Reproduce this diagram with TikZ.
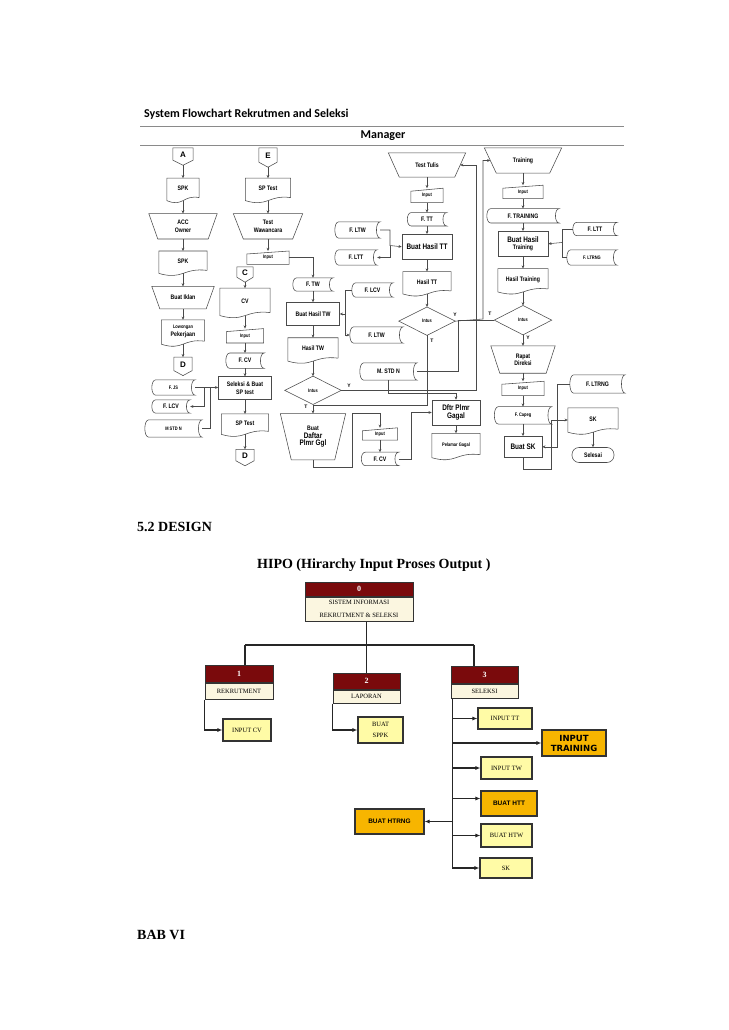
\documentclass[tikz,border=0pt]{standalone}
\usepackage{fontspec}
\usepackage{xcolor}
\usepackage{tikz}
\usetikzlibrary{arrows.meta,positioning}
\setmainfont{Liberation Serif}
\newfontfamily\fcfamily[FakeStretch=0.8]{Liberation Sans}
\newfontfamily\arialfamily{Liberation Sans}
\newfontfamily\calfamily{Carlito}
\newfontfamily\verdfamily{DejaVu Sans}
\definecolor{maroon}{HTML}{7A0A0C}
\definecolor{cream}{HTML}{FBF6E0}
\definecolor{paleyel}{HTML}{FFFBA6}
\definecolor{amber}{HTML}{F7B500}
\definecolor{bk80}{HTML}{333333}
\definecolor{bk70}{HTML}{4A4A4A}
\definecolor{bk50}{HTML}{8A8A8A}
\newcommand{\fcsmall}{\fontsize{5}{6}\selectfont}
\newcommand{\fcbig}{\fontsize{8}{9.5}\selectfont}
\tikzset{
  % ── flowchart ──
  fcline/.style={draw=bk70, line width=0.55pt},
  fcarrow/.style={fcline, -{Stealth[length=3.2pt,width=2.8pt]}},
  fcbase/.style={rectangle, inner sep=0.5pt, align=center,
    font=\fcfamily\bfseries\fontsize{6.5}{7.5}\selectfont},
  procbox/.style={fcbase, draw=bk70, line width=0.55pt},
  docbox/.style={fcbase, text depth=2pt, append after command={\pgfextra{\draw[fcline]
      ([yshift=3pt]\tikzlastnode.south east) -- (\tikzlastnode.north east)
      -- (\tikzlastnode.north west) -- (\tikzlastnode.south west)
      .. controls ([yshift=-7pt]\tikzlastnode.south) and ([yshift=6pt]\tikzlastnode.south)
      .. ([yshift=3pt]\tikzlastnode.south east);}}},
  storebox/.style={fcbase, append after command={\pgfextra{\draw[fcline]
      ([xshift=4pt]\tikzlastnode.north west) -- (\tikzlastnode.north east)
      .. controls ([xshift=-5pt]\tikzlastnode.north east) and ([xshift=-5pt]\tikzlastnode.south east)
      .. (\tikzlastnode.south east) -- ([xshift=4pt]\tikzlastnode.south west)
      .. controls ([xshift=-1.3pt]\tikzlastnode.south west) and ([xshift=-1.3pt]\tikzlastnode.north west)
      .. ([xshift=4pt]\tikzlastnode.north west);}}},
  inbox/.style={fcbase, append after command={\pgfextra{\draw[fcline]
      (\tikzlastnode.south west) -- ([yshift=-3pt]\tikzlastnode.north west)
      -- (\tikzlastnode.north east) -- (\tikzlastnode.south east) -- cycle;}}},
  offpage/.style={fcbase, text depth=4pt,
    font=\arialfamily\bfseries\fontsize{8}{9}\selectfont,
    append after command={\pgfextra{\draw[fcline]
      (\tikzlastnode.north west) -- (\tikzlastnode.north east)
      -- ([yshift=5pt]\tikzlastnode.south east) -- (\tikzlastnode.south)
      -- ([yshift=5pt]\tikzlastnode.south west) -- cycle;}}},
  manop/.style={fcbase, append after command={\pgfextra{\draw[fcline]
      (\tikzlastnode.north west) -- (\tikzlastnode.north east)
      -- ([xshift=-#1]\tikzlastnode.south east)
      -- ([xshift=#1]\tikzlastnode.south west) -- cycle;}}},
  manop/.default=9pt,
  decbox/.style={fcbase, append after command={\pgfextra{\draw[fcline]
      (\tikzlastnode.north) -- (\tikzlastnode.east) -- (\tikzlastnode.south)
      -- (\tikzlastnode.west) -- cycle;}}},
  termbox/.style={fcbase, draw=bk70, line width=0.55pt, rounded corners=7pt},
  yntag/.style={font=\arialfamily\bfseries\fontsize{5}{6}\selectfont, inner sep=0pt},
  rulebar/.style={draw=bk50, line width=0.7pt},
  % ── HIPO ──
  hipohead/.style={rectangle, fill=maroon, draw=bk80, line width=1pt, text=white,
    font=\bfseries\fontsize{8}{9}\selectfont, inner sep=0pt},
  hipobody/.style={rectangle, fill=cream, draw=bk80, line width=1pt,
    font=\fontsize{6.5}{12.5}\selectfont, align=center, inner sep=0pt},
  hipoleaf/.style={rectangle, fill=paleyel, draw=bk80, line width=1.1pt,
    font=\fontsize{6.5}{11}\selectfont, align=center, inner sep=1pt},
  hipohot/.style={rectangle, fill=amber, draw=bk80, line width=1.1pt,
    font=\arialfamily\bfseries\fontsize{6.5}{8}\selectfont, align=center, inner sep=1pt},
  hline/.style={draw=black!85, line width=1.3pt},
  harrow/.style={hline, -{Latex[length=5pt,width=4pt]}},
  pagehead/.style={anchor=west, inner sep=0pt, font=\bfseries\fontsize{14}{16}\selectfont},
}
\begin{document}
\begin{tikzpicture}[x=1pt, y=-1pt]
    \fill[white] (0,0) rectangle (728,1030);
    \useasboundingbox (0,0) rectangle (728,1030);

    % HEADER
    \node[anchor=west, inner sep=0pt, font=\calfamily\bfseries\fontsize{12}{14}\selectfont] (fctitle) at (144,114) {System Flowchart Rekrutmen and Seleksi};
    \coordinate (ruleAL) at (140,126); \coordinate (ruleAR) at (624,126);
    \coordinate (ruleBL) at (140,145); \coordinate (ruleBR) at (624,145);
    \draw[rulebar] (ruleAL) -- (ruleAR);
    \draw[rulebar] (ruleBL) -- (ruleBR);
    \node[inner sep=0pt, font=\calfamily\bfseries\fontsize{12}{14}\selectfont] (manager) at (383,135.5) {Manager};

    % COLUMN A: SPK
    \node[offpage, minimum width=20pt, minimum height=17pt] (conA) at (183,156.5) {A};
    \node[docbox, minimum width=32pt, minimum height=22pt, below=13pt of conA] (spkA) {SPK};
    \node[manop=9pt, minimum width=68pt, minimum height=25pt, below=13pt of spkA] (accown) {ACC\\Owner};
    \node[docbox, minimum width=48pt, minimum height=22pt, below=12pt of accown] (spkB) {SPK};
    \node[manop=8pt, minimum width=62pt, minimum height=22pt, below=13pt of spkB] (iklan) {Buat Iklan};
    \node[docbox, minimum width=43pt, minimum height=24pt, below=11pt of iklan] (loker) {{\fcsmall Lowongan}\\Pekerjaan};
    \node[offpage, minimum width=18pt, minimum height=18pt, below=13pt of loker] (conDa) {D};

    % files feeding the selection
    \node[storebox, minimum width=43pt, minimum height=15pt] (fjs) at (173.5,387.5) {\fcsmall F. JS};
    \node[storebox, minimum width=38pt, minimum height=13pt] (flcvA) at (171,406.5) {F. LCV};
    \node[storebox, minimum width=57pt, minimum height=17pt] (mstdA) at (173.5,428.5) {\fcsmall M STD N};

    % COLUMN E / C: interview and selection
    \node[offpage, minimum width=18pt, minimum height=19pt] (conE) at (268,157.5) {E};
    \node[docbox, minimum width=45pt, minimum height=22pt, below=11pt of conE] (sptestA) {SP Test};
    \node[manop=10pt, minimum width=69pt, minimum height=25pt, below=13pt of sptestA] (wawancara) {Test\\Wawancara};
    \node[inbox, minimum width=42pt, minimum height=13pt, below=12pt of wawancara] (inputW) {\fcsmall Input};

    \node[offpage, minimum width=16pt, minimum height=15pt] (conC) at (245,274.5) {C};
    \node[docbox, minimum width=50pt, minimum height=27pt, below=6pt of conC] (cvdoc) {CV};
    \node[inbox, minimum width=37pt, minimum height=14pt, below=13pt of cvdoc] (inputC) {\fcsmall Input};
    \node[storebox, minimum width=38pt, minimum height=15pt, below=10pt of inputC] (fcvA) {F. CV};
    \node[procbox, minimum width=53pt, minimum height=23pt, below=8pt of fcvA] (seleksi) {Seleksi \& Buat\\SP test};
    \node[docbox, minimum width=47pt, minimum height=20pt, below=14pt of seleksi] (sptestB) {SP Test};
    \node[offpage, minimum width=18pt, minimum height=16pt, below=15pt of sptestB] (conDb) {D};

    % COLUMN TW: interview result
    \node[storebox, minimum width=40pt, minimum height=13pt] (ftw) at (313,284.5) {F. TW};
    \node[procbox, minimum width=53pt, minimum height=23pt, below=11pt of ftw] (bhtw) {Buat Hasil TW};
    \node[docbox, minimum width=50pt, minimum height=23pt, below=12pt of bhtw] (hasiltw) {Hasil TW};
    \node[decbox, minimum width=56pt, minimum height=28pt, below=15pt of hasiltw] (intustw) {\fcsmall Intus};
    \node[manop=11pt, minimum width=65pt, minimum height=46pt, below=9pt of intustw] (daftar) {Buat\\{\fcbig Daftar}\\{\fcbig Plmr Ggl}};

    \node[storebox, minimum width=41pt, minimum height=14pt] (flcvB) at (372.5,290) {F. LCV};
    \node[storebox, minimum width=53pt, minimum height=16pt] (fltwB) at (376.5,335) {F. LTW};
    \node[storebox, minimum width=57pt, minimum height=17pt] (mstdB) at (388.5,371.5) {M. STD N};
    \node[inbox, minimum width=35pt, minimum height=12pt] (inputD) at (380,434) {\fcsmall Input};
    \node[storebox, minimum width=37pt, minimum height=13pt, below=12pt of inputD] (fcvB) {F. CV};
    \node[procbox, minimum width=48pt, minimum height=25pt] (dftr) at (456,412.5) {{\fcbig Dftr Plmr}\\{\fcbig Gagal}};
    \node[docbox, minimum width=48pt, minimum height=24pt, below=8pt of dftr] (pelamar) {\fcsmall Pelamar Gagal};

    % COLUMN TT: written test
    \node[manop=11pt, minimum width=77pt, minimum height=24pt] (tulis) at (427,165) {Test Tulis};
    \node[inbox, minimum width=32pt, minimum height=14pt, below=11pt of tulis] (inputT) {\fcsmall Input};
    \node[storebox, minimum width=39pt, minimum height=13pt, below=10pt of inputT] (ftt) {F. TT};
    \node[procbox, minimum width=50pt, minimum height=25pt, below=8pt of ftt] (bhtt) {{\fcbig Buat Hasil TT}};
    \node[docbox, minimum width=48pt, minimum height=22pt, below=12pt of bhtt] (hasiltt) {Hasil TT};
    \node[decbox, minimum width=56pt, minimum height=28pt, below=13pt of hasiltt] (intustt) {\fcsmall Intus};
    \node[storebox, minimum width=45pt, minimum height=16pt] (fltwA) at (357.5,230) {F. LTW};
    \node[storebox, minimum width=42pt, minimum height=15pt] (flttA) at (356,257.5) {F. LTT};

    % COLUMN TRAINING
    \node[manop=12pt, minimum width=77pt, minimum height=25pt] (training) at (523,160.5) {Training};
    \node[inbox, minimum width=40pt, minimum height=13pt, below=12pt of training] (inputTr) {\fcsmall Input};
    \node[storebox, minimum width=72pt, minimum height=14pt, below=10pt of inputTr] (ftrain) {F. TRAINING};
    \node[procbox, minimum width=50pt, minimum height=25pt, below=8pt of ftrain] (bhtr) {{\fcbig Buat Hasil}\\Training};
    \node[docbox, minimum width=50pt, minimum height=23pt, below=12pt of bhtr] (hasiltr) {Hasil Training};
    \node[decbox, minimum width=57pt, minimum height=29pt, below=13.5pt of hasiltr] (intustr) {\fcsmall Intus};
    \node[manop=9pt, minimum width=64pt, minimum height=27pt, below=11pt of intustr] (rapat) {Rapat\\Direksi};
    \node[inbox, minimum width=42pt, minimum height=14pt, below=8pt of rapat] (inputR) {\fcsmall Input};
    \node[storebox, minimum width=57pt, minimum height=17pt, below=11pt of inputR] (fcapeg) {\fcsmall F. Capeg};
    \node[procbox, minimum width=38pt, minimum height=21pt, below=12pt of fcapeg] (buatsk) {{\fcbig Buat SK}};

    \node[storebox, minimum width=44pt, minimum height=13pt] (flttB) at (595,229) {F. LTT};
    \node[storebox, minimum width=50pt, minimum height=15pt] (fltrngA) at (592,257.5) {\fcsmall F. LTRNG};
    \node[storebox, minimum width=55pt, minimum height=18pt] (fltrngB) at (597.5,384) {F. LTRNG};
    \node[docbox, minimum width=50pt, minimum height=24pt] (skdoc) at (593,420) {SK};
    \node[termbox, minimum width=42pt, minimum height=15pt, below=15pt of skdoc] (selesai) {Selesai};

    % straight runs
    \foreach \a/\b in {conA/spkA,spkA/accown,accown/spkB,spkB/iklan,iklan/loker,loker/conDa,
        conE/sptestA,sptestA/wawancara,wawancara/inputW,
        conC/cvdoc,cvdoc/inputC,inputC/fcvA,fcvA/seleksi,seleksi/sptestB,sptestB/conDb,
        ftw/bhtw,bhtw/hasiltw,hasiltw/intustw,intustw/daftar,inputD/fcvB,dftr/pelamar,
        tulis/inputT,inputT/ftt,ftt/bhtt,bhtt/hasiltt,hasiltt/intustt,
        training/inputTr,inputTr/ftrain,ftrain/bhtr,bhtr/hasiltr,hasiltr/intustr,
        intustr/rapat,rapat/inputR,inputR/fcapeg,fcapeg/buatsk,skdoc/selesai}
        \draw[fcarrow] (\a.south) -- (\b.north);

    % bent runs
    \draw[fcarrow] (inputW.east) -| (ftw.north);
    \draw[fcarrow] (fjs.east) -- (fjs.east -| seleksi.west);
    \coordinate (busAa) at (204,387.5);
    \coordinate (busAb) at (210,387.5);
    \draw[fcline] (mstdA.east) -| (busAb);
    \draw[fcarrow] (busAa) |- (flcvA.east);

    \coordinate (busTW) at (345,290);
    \draw[fcline] (flcvB.west) -- (busTW);
    \draw[fcarrow] (busTW) |- (bhtw.east);
    \draw[fcarrow] (busTW) |- (fltwB.west);

    \coordinate (busTT) at (390,245.5);
    \draw[fcarrow] (fltwA.east) -| (busTT) -- (bhtt.west);
    \draw[fcarrow] (busTT) |- (flttA.east);

    \coordinate (loopTW) at (476,389);
    \draw[fcarrow] (intustw.east) -- (intustw.east -| loopTW) |- ([xshift=-5.5pt]tulis.east);
    \coordinate (dfTurn) at (352,413);
    \draw[fcarrow] (daftar.south) -- ++(0,7) -| (dfTurn) -| (inputD.north);
    \draw[fcarrow] (fcvB.east) -- ++(13,0) |- (dftr.west);
    \draw[fcarrow] (mstdB.south) -- ++(0,13) -| (dftr.north);
    \coordinate (mergeT) at (313,405);
    \draw[fcline] (intustt.south) |- (mergeT);

    \coordinate (loopTT) at (483,319);
    \draw[fcarrow] (intustt.east) -- (loopTT) |- ([xshift=6pt]training.west);
    \coordinate (tieM) at (458,371.5);
    \draw[fcline] (intustr.west) -| (tieM) -- (mstdB.east);

    \coordinate (busTr) at (562,242.5);
    \draw[fcline] (flttB.west) -| (busTr);
    \draw[fcline] (fltrngA.west) -| (busTr);
    \draw[fcarrow] (busTr) -- (bhtr.east);
    \draw[fcarrow] (fltrngB.west) -- ++(-13,0) |- (buatsk.east);
    \coordinate (skTurn) at (551,420);
    \draw[fcarrow] (buatsk.south) -- ++(0,12) -| (skTurn) -- (skdoc.west);

    % decision labels
    \node[yntag] (tagTWt) at (306,407) {T};
    \node[yntag] (tagTWy) at (349,386) {Y};
    \node[yntag] (tagTTy) at (455,315) {Y};
    \node[yntag] (tagTTt) at (432,341) {T};
    \node[yntag] (tagTRt) at (490,314) {T};
    \node[yntag] (tagTRy) at (528,338) {Y};

    % PAGE HEADINGS
    \node[pagehead] (secdesign) at (137,527) {5.2 DESIGN};
    \node[pagehead] (hipotitle) at (257,565) {HIPO (Hirarchy Input Proses Output )};
    \node[pagehead] (babvi) at (137,935) {BAB VI};

    % HIPO: top level
    \node[hipohead, minimum width=108pt, minimum height=14pt] (rootH) at (359,589) {0};
    \node[hipobody, minimum width=108pt, minimum height=24pt, below=0pt of rootH] (root) {SISTEM INFORMASI\\REKRUTMENT \& SELEKSI};

    \node[hipohead, minimum width=68pt, minimum height=17pt] (rekH) at (239,673.5) {1};
    \node[hipobody, minimum width=68pt, minimum height=16pt, below=0pt of rekH] (rek) {REKRUTMENT};
    \node[hipohead, minimum width=67pt, minimum height=16pt] (lapH) at (366.5,681) {2};
    \node[hipobody, minimum width=67pt, minimum height=13pt, below=0pt of lapH] (lap) {LAPORAN};
    \node[hipohead, minimum width=67pt, minimum height=17pt] (selH) at (484.5,674.5) {3};
    \node[hipobody, minimum width=67pt, minimum height=14pt, below=0pt of selH] (sel) {SELEKSI};

    % HIPO: leaves
    \node[hipoleaf, minimum width=48pt, minimum height=22pt] (inputcv) at (247,730) {INPUT CV};
    \node[hipoleaf, minimum width=45pt, minimum height=26pt] (sppk) at (380.5,730) {BUAT\\SPPK};
    \node[hipoleaf, minimum width=54pt, minimum height=21pt] (itt) at (505,718.5) {INPUT TT};
    \node[hipohot, minimum width=64pt, minimum height=26pt, font=\verdfamily\bfseries\fontsize{8.5}{10}\selectfont] (itrain) at (574,743) {INPUT\\TRAINING};
    \node[hipoleaf, minimum width=51pt, minimum height=22pt] (itw) at (506.5,768) {INPUT TW};
    \node[hipohot, minimum width=56pt, minimum height=25pt] (bhtth) at (509,803.5) {BUAT HTT};
    \node[hipohot, minimum width=69pt, minimum height=25pt] (bhtrng) at (389.5,821.5) {BUAT HTRNG};
    \node[hipoleaf, minimum width=51pt, minimum height=23pt] (bhtwh) at (506.5,835.5) {BUAT HTW};
    \node[hipoleaf, minimum width=52pt, minimum height=20pt] (skh) at (506,868) {SK};

    % HIPO: links
    \coordinate (hubL) at (245,645);
    \coordinate (hubR) at (474,645);
    \draw[hline] (root.south -| lapH.north) -- (lapH.north);
    \draw[hline] (hubL) -- (hubR);
    \draw[hline] (hubL) -- (hubL |- rekH.north);
    \draw[hline] (hubR) -- (hubR |- selH.north);
    \draw[harrow] (rek.south west) |- (inputcv.west);
    \draw[harrow] (lap.south west) |- (sppk.west);
    \coordinate (selBus) at (453,870);
    \draw[harrow] ([xshift=2pt]sel.south west) |- (skh.west);
    \foreach \c in {itt,itrain,itw,bhtwh}
        \draw[harrow] (selBus |- \c.west) -- (\c.west);
    \draw[harrow, line width=0.8pt] (selBus |- bhtth.west) ++(0,-5) -- ([yshift=5pt]bhtth.west);
    \draw[harrow] (selBus |- bhtrng.east) -- (bhtrng.east);
\end{tikzpicture}
\end{document}
